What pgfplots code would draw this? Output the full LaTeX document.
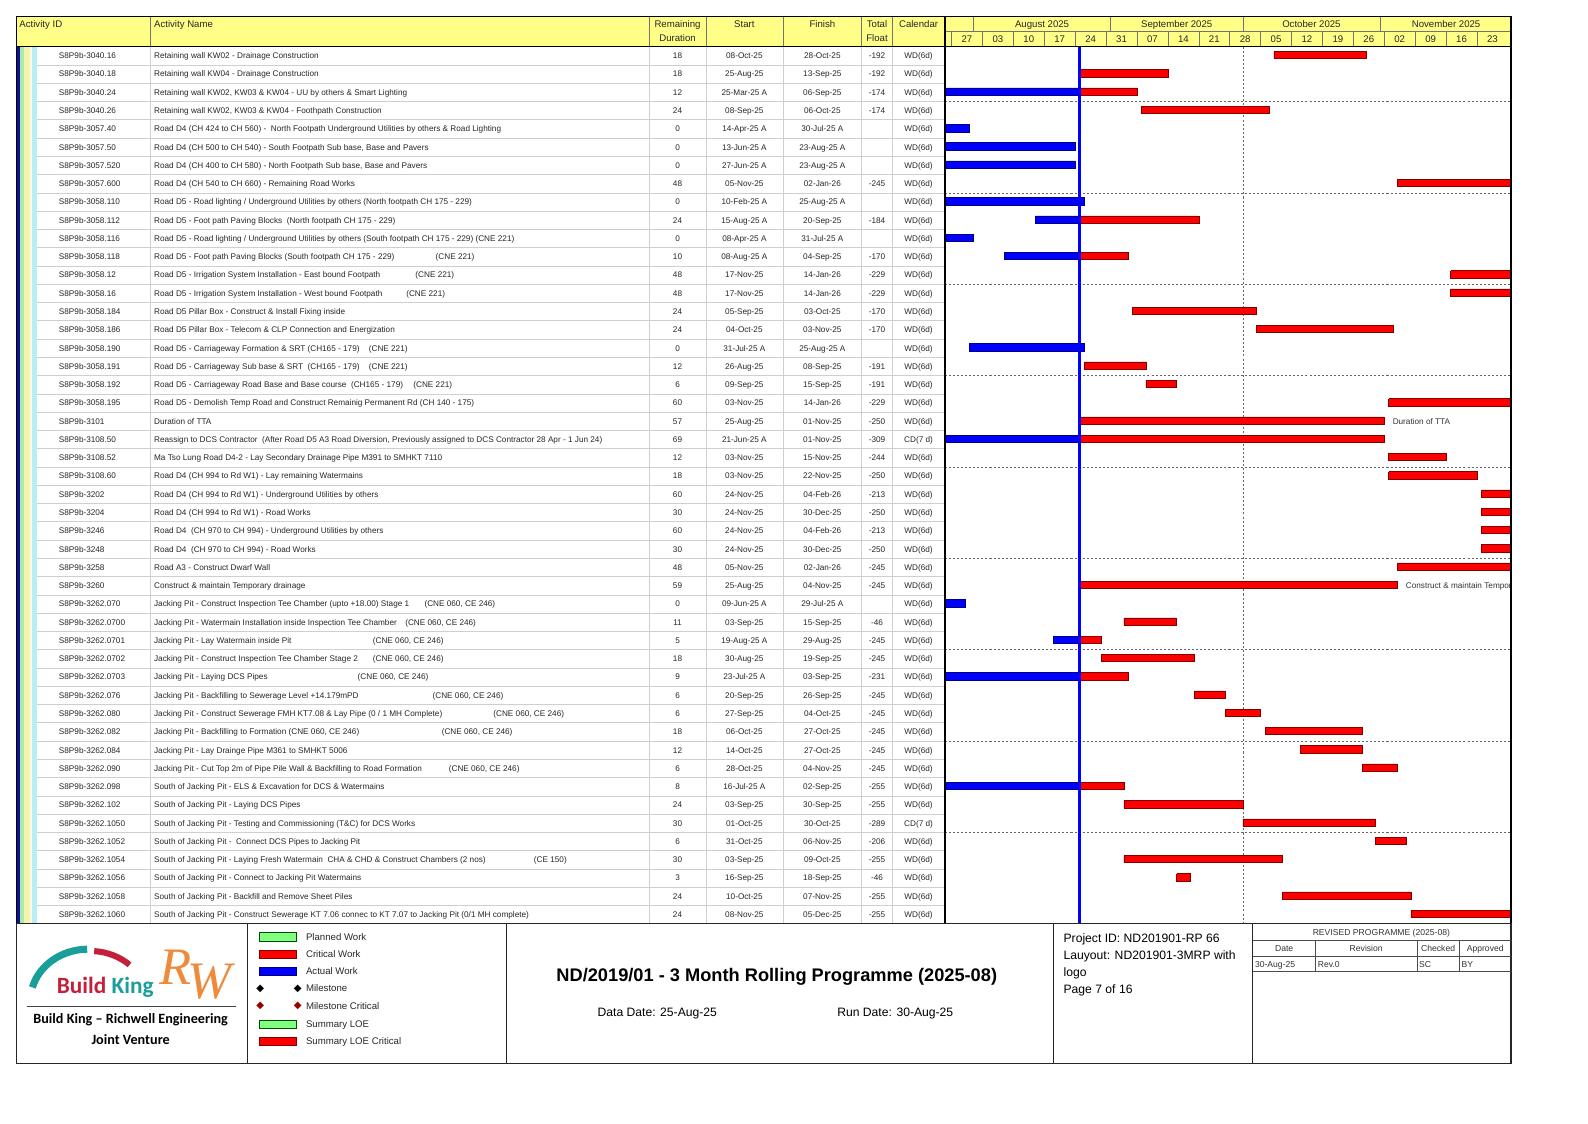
\documentclass[border=0pt]{standalone}
\usepackage{pgfplots}
\pgfplotsset{compat=1.18}
\usepackage{fontspec}
\setmainfont{Liberation Sans}
\newfontfamily\carlito{Carlito}
\newfontfamily\dejavu{DejaVu Sans}
\newfontfamily\lserif{Liberation Serif}
\definecolor{hdr}{HTML}{FFFF88}
\definecolor{crit}{HTML}{FF0000}
\definecolor{critD}{HTML}{800000}
\definecolor{act}{HTML}{0000FF}
\definecolor{actD}{HTML}{000080}
\definecolor{plan}{HTML}{80FF80}
\definecolor{gridg}{HTML}{CFCFCF}
\definecolor{bkteal}{HTML}{1A9E9A}
\definecolor{bkred}{HTML}{C4203C}
\definecolor{rworange}{HTML}{EE8A3A}
\definecolor{sNavy}{HTML}{10109A}
\definecolor{sGreen}{HTML}{A8EEA8}
\definecolor{sYellow}{HTML}{F4F4B0}
\definecolor{sPale}{HTML}{FAFAE6}
\definecolor{sCyan}{HTML}{B8EEF4}
\pgfplotsset{critbar/.style={fill=crit, draw=critD, line width=0.5pt},
             actbar/.style={fill=act, draw=actD, line width=0.5pt}}
\newcommand\gb[5]{\addplot[#1] coordinates {(#4,#2)(#5,#2)(#5,#3)(#4,#3)(#4,#2)};}
\newcommand\trow[8]{%
  \pgfmathsetmacro\yb{-46-(#1-0.5)*18.042-2.9}%
  \node[anchor=base west] at (58,\yb) {#2};%
  \node[anchor=base west] at (152,\yb) {#3};%
  \node[anchor=base] at (669,\yb) {#4};%
  \node[anchor=base] at (735,\yb) {#5};%
  \node[anchor=base] at (812,\yb) {#6};%
  \node[anchor=base] at (866,\yb) {#7};%
  \node[anchor=base] at (907,\yb) {#8};%
}
\newcommand\xtra[3]{%
  \pgfmathsetmacro\yb{-46-(#1-0.5)*18.042-2.9}%
  \node[anchor=base west] at (#2,\yb) {#3};}
\begin{document}
\begin{tikzpicture}[x=1pt,y=1pt,font=\fontsize{8.1}{9.6}\selectfont,every node/.style={inner sep=0pt}]
\path (0,0) rectangle (1568,-1109);
% header background
\fill[hdr] (16,-16) rectangle (1492,-46);
% left colour strips
\fill[sNavy] (16,-46) rectangle (19.5,-912);
\fill[sGreen] (19.5,-46) rectangle (23.5,-912);
\fill[sYellow] (23.5,-46) rectangle (29.5,-912);
\fill[sPale] (29.5,-46) rectangle (31.5,-912);
\fill[sCyan] (31.5,-46) rectangle (36.5,-912);
% row lines
\foreach \k in {1,...,47} {\draw[gridg, line width=0.5pt] (37,{-46-\k*18.042}) -- (933,{-46-\k*18.042});}
% column lines
\foreach \x in {148,641,697.5,773.5,850,881.5} {\draw[gridg, line width=0.6pt] (\x,-46) -- (\x,-912); \draw[black!55, line width=0.6pt] (\x,-16) -- (\x,-46);}
% gantt dashed lines
\foreach \k in {3,8,...,43} {\draw[black!60, line width=0.5pt, dash pattern=on 2pt off 2pt] (933,{-46-\k*18.042}) -- (1492,{-46-\k*18.042});}
\draw[black!60, line width=0.5pt, dash pattern=on 2pt off 2pt] ({939.54+66*4.36},-46) -- ({939.54+66*4.36},-912);

\begin{axis}[at={(933pt,-912pt)}, anchor=south west, width=559pt, height=866pt, scale only axis,
  xmin=-1.5, xmax=126.71, ymin=0.5, ymax=48.5, y dir=reverse, hide axis]
\gb{critbar}{0.76}{1.16}{73}{94}
\gb{critbar}{1.76}{2.16}{29}{49}
\gb{actbar}{2.76}{3.16}{-124}{29}
\gb{critbar}{2.76}{3.16}{29}{42}
\gb{critbar}{3.76}{4.16}{43}{72}
\gb{actbar}{4.76}{5.16}{-104}{4}
\gb{actbar}{5.76}{6.16}{-44}{28}
\gb{actbar}{6.76}{7.16}{-30}{28}
\gb{critbar}{7.76}{8.16}{101}{160}
\gb{actbar}{8.76}{9.16}{-167}{30}
\gb{actbar}{9.76}{10.16}{19}{29}
\gb{critbar}{9.76}{10.16}{29}{56}
\gb{actbar}{10.76}{11.16}{-110}{5}
\gb{actbar}{11.76}{12.16}{12}{29}
\gb{critbar}{11.76}{12.16}{29}{40}
\gb{critbar}{12.76}{13.16}{113}{172}
\gb{critbar}{13.76}{14.16}{113}{172}
\gb{critbar}{14.76}{15.16}{41}{69}
\gb{critbar}{15.76}{16.16}{69}{100}
\gb{actbar}{16.76}{17.16}{4}{30}
\gb{critbar}{17.76}{18.16}{30}{44}
\gb{critbar}{18.76}{19.16}{44}{51}
\gb{critbar}{19.76}{20.16}{99}{172}
\gb{critbar}{20.76}{21.16}{29}{98}
\gb{actbar}{21.76}{22.16}{-36}{29}
\gb{critbar}{21.76}{22.16}{29}{98}
\gb{critbar}{22.76}{23.16}{99}{112}
\gb{critbar}{23.76}{24.16}{99}{119}
\gb{critbar}{24.76}{25.16}{120}{193}
\gb{critbar}{25.76}{26.16}{120}{157}
\gb{critbar}{26.76}{27.16}{120}{193}
\gb{critbar}{27.76}{28.16}{120}{157}
\gb{critbar}{28.76}{29.16}{101}{160}
\gb{critbar}{29.76}{30.16}{29}{101}
\gb{actbar}{30.76}{31.16}{-48}{3}
\gb{critbar}{31.76}{32.16}{39}{51}
\gb{actbar}{32.76}{33.16}{23}{29}
\gb{critbar}{32.76}{33.16}{29}{34}
\gb{critbar}{33.76}{34.16}{34}{55}
\gb{actbar}{34.76}{35.16}{-4}{29}
\gb{critbar}{34.76}{35.16}{29}{40}
\gb{critbar}{35.76}{36.16}{55}{62}
\gb{critbar}{36.76}{37.16}{62}{70}
\gb{critbar}{37.76}{38.16}{71}{93}
\gb{critbar}{38.76}{39.16}{79}{93}
\gb{critbar}{39.76}{40.16}{93}{101}
\gb{actbar}{40.76}{41.16}{-11}{29}
\gb{critbar}{40.76}{41.16}{29}{39}
\gb{critbar}{41.76}{42.16}{39}{66}
\gb{critbar}{42.76}{43.16}{66}{96}
\gb{critbar}{43.76}{44.16}{96}{103}
\gb{critbar}{44.76}{45.16}{39}{75}
\gb{critbar}{45.76}{46.16}{51}{54}
\gb{critbar}{46.76}{47.16}{75}{104}
\gb{critbar}{47.76}{48.16}{104}{132}
\end{axis}

% data date line
\draw[act, line width=2.8pt] ({939.54+29*4.36},-46) -- ({939.54+29*4.36},-912);
% bar labels
\begin{scope}
\clip (933,-46) rectangle (1492,-912);
\begin{scope}[text=black!80]
\xtra{21}{1375}{Duration of TTA}
\xtra{30}{1388}{Construct \& maintain Temporary drainage}
\end{scope}
\end{scope}

% gantt header
\draw[black!55, line width=0.6pt] (933,-31) -- (1492,-31);
\foreach \d in {5,36,66,97} {\draw[black!55, line width=0.6pt] ({939.54+\d*4.36},-16) -- ({939.54+\d*4.36},-31);}
\foreach \d in {0,7,...,119} {\draw[black!55, line width=0.6pt] ({939.54+\d*4.36},-31) -- ({939.54+\d*4.36},-46);}
\begin{scope}[font=\fontsize{9.5}{11}\selectfont, text=black!85]
\node[anchor=base] at ({939.54+20.5*4.36},-27) {August 2025};
\node[anchor=base] at ({939.54+51*4.36},-27) {September 2025};
\node[anchor=base] at ({939.54+81.5*4.36},-27) {October 2025};
\node[anchor=base] at ({939.54+112*4.36},-27) {November 2025};
\foreach \d/\l in {0/27,7/03,14/10,21/17,28/24,35/31,42/07,49/14,56/21,63/28,70/05,77/12,84/19,91/26,98/02,105/09,112/16,119/23}
  {\node[anchor=base] at ({939.54+(\d+3.5)*4.36},-42) {\l};}
% column headers
\node[anchor=base west] at (19,-27.5) {Activity ID};
\node[anchor=base west] at (152,-27.5) {Activity Name};
\node[anchor=base] at (669,-27.5) {Remaining};
\node[anchor=base] at (669,-40.5) {Duration};
\node[anchor=base] at (735,-27.5) {Start};
\node[anchor=base] at (812,-27.5) {Finish};
\node[anchor=base] at (866,-27.5) {Total};
\node[anchor=base] at (866,-40.5) {Float};
\node[anchor=base] at (907,-27.5) {Calendar};
\end{scope}

% table rows
\begin{scope}[text=black!85]
\trow{1}{S8P9b-3040.16}{Retaining wall KW02 - Drainage Construction}{18}{08-Oct-25}{28-Oct-25}{-192}{WD(6d)}
\trow{2}{S8P9b-3040.18}{Retaining wall KW04 - Drainage Construction}{18}{25-Aug-25}{13-Sep-25}{-192}{WD(6d)}
\trow{3}{S8P9b-3040.24}{Retaining wall KW02, KW03 \& KW04 - UU by others \& Smart Lighting}{12}{25-Mar-25 A}{06-Sep-25}{-174}{WD(6d)}
\trow{4}{S8P9b-3040.26}{Retaining wall KW02, KW03 \& KW04 - Foothpath Construction}{24}{08-Sep-25}{06-Oct-25}{-174}{WD(6d)}
\trow{5}{S8P9b-3057.40}{Road D4 (CH 424 to CH 560) -\ \ North Footpath Underground Utilities by others \& Road Lighting}{0}{14-Apr-25 A}{30-Jul-25 A}{}{WD(6d)}
\trow{6}{S8P9b-3057.50}{Road D4 (CH 500 to CH 540) - South Footpath Sub base, Base and Pavers}{0}{13-Jun-25 A}{23-Aug-25 A}{}{WD(6d)}
\trow{7}{S8P9b-3057.520}{Road D4 (CH 400 to CH 580) - North Footpath Sub base, Base and Pavers}{0}{27-Jun-25 A}{23-Aug-25 A}{}{WD(6d)}
\trow{8}{S8P9b-3057.600}{Road D4 (CH 540 to CH 660) - Remaining Road Works}{48}{05-Nov-25}{02-Jan-26}{-245}{WD(6d)}
\trow{9}{S8P9b-3058.110}{Road D5 - Road lighting / Underground Utilities by others (North footpath CH 175 - 229)}{0}{10-Feb-25 A}{25-Aug-25 A}{}{WD(6d)}
\trow{10}{S8P9b-3058.112}{Road D5 - Foot path Paving Blocks\ \ (North footpath CH 175 - 229)}{24}{15-Aug-25 A}{20-Sep-25}{-184}{WD(6d)}
\trow{11}{S8P9b-3058.116}{Road D5 - Road lighting / Underground Utilities by others (South footpath CH 175 - 229) (CNE 221)}{0}{08-Apr-25 A}{31-Jul-25 A}{}{WD(6d)}
\trow{12}{S8P9b-3058.118}{Road D5 - Foot path Paving Blocks (South footpath CH 175 - 229)}{10}{08-Aug-25 A}{04-Sep-25}{-170}{WD(6d)}
\xtra{12}{430}{(CNE 221)}
\trow{13}{S8P9b-3058.12}{Road D5 - Irrigation System Installation - East bound Footpath}{48}{17-Nov-25}{14-Jan-26}{-229}{WD(6d)}
\xtra{13}{410}{(CNE 221)}
\trow{14}{S8P9b-3058.16}{Road D5 - Irrigation System Installation - West bound Footpath}{48}{17-Nov-25}{14-Jan-26}{-229}{WD(6d)}
\xtra{14}{401}{(CNE 221)}
\trow{15}{S8P9b-3058.184}{Road D5 Pillar Box - Construct \& Install Fixing inside}{24}{05-Sep-25}{03-Oct-25}{-170}{WD(6d)}
\trow{16}{S8P9b-3058.186}{Road D5 Pillar Box - Telecom \& CLP Connection and Energization}{24}{04-Oct-25}{03-Nov-25}{-170}{WD(6d)}
\trow{17}{S8P9b-3058.190}{Road D5 - Carriageway Formation \& SRT (CH165 - 179)}{0}{31-Jul-25 A}{25-Aug-25 A}{}{WD(6d)}
\xtra{17}{364}{(CNE 221)}
\trow{18}{S8P9b-3058.191}{Road D5 - Carriageway Sub base \& SRT\ \ (CH165 - 179)}{12}{26-Aug-25}{08-Sep-25}{-191}{WD(6d)}
\xtra{18}{364}{(CNE 221)}
\trow{19}{S8P9b-3058.192}{Road D5 - Carriageway Road Base and Base course\ \ (CH165 - 179)}{6}{09-Sep-25}{15-Sep-25}{-191}{WD(6d)}
\xtra{19}{408}{(CNE 221)}
\trow{20}{S8P9b-3058.195}{Road D5 - Demolish Temp Road and Construct Remainig Permanent Rd (CH 140 - 175)}{60}{03-Nov-25}{14-Jan-26}{-229}{WD(6d)}
\trow{21}{S8P9b-3101}{Duration of TTA}{57}{25-Aug-25}{01-Nov-25}{-250}{WD(6d)}
\trow{22}{S8P9b-3108.50}{Reassign to DCS Contractor\ \ (After Road D5 A3 Road Diversion, Previously assigned to DCS Contractor 28 Apr - 1 Jun 24)}{69}{21-Jun-25 A}{01-Nov-25}{-309}{CD(7 d)}
\trow{23}{S8P9b-3108.52}{Ma Tso Lung Road D4-2 - Lay Secondary Drainage Pipe M391 to SMHKT 7110}{12}{03-Nov-25}{15-Nov-25}{-244}{WD(6d)}
\trow{24}{S8P9b-3108.60}{Road D4 (CH 994 to Rd W1) - Lay remaining Watermains}{18}{03-Nov-25}{22-Nov-25}{-250}{WD(6d)}
\trow{25}{S8P9b-3202}{Road D4 (CH 994 to Rd W1) - Underground Utilities by others}{60}{24-Nov-25}{04-Feb-26}{-213}{WD(6d)}
\trow{26}{S8P9b-3204}{Road D4 (CH 994 to Rd W1) - Road Works}{30}{24-Nov-25}{30-Dec-25}{-250}{WD(6d)}
\trow{27}{S8P9b-3246}{Road D4\ \ (CH 970 to CH 994) - Underground Utilities by others}{60}{24-Nov-25}{04-Feb-26}{-213}{WD(6d)}
\trow{28}{S8P9b-3248}{Road D4\ \ (CH 970 to CH 994) - Road Works}{30}{24-Nov-25}{30-Dec-25}{-250}{WD(6d)}
\trow{29}{S8P9b-3258}{Road A3 - Construct Dwarf Wall}{48}{05-Nov-25}{02-Jan-26}{-245}{WD(6d)}
\trow{30}{S8P9b-3260}{Construct \& maintain Temporary drainage}{59}{25-Aug-25}{04-Nov-25}{-245}{WD(6d)}
\trow{31}{S8P9b-3262.070}{Jacking Pit - Construct Inspection Tee Chamber (upto +18.00) Stage 1}{0}{09-Jun-25 A}{29-Jul-25 A}{}{WD(6d)}
\xtra{31}{419}{(CNE 060, CE 246)}
\trow{32}{S8P9b-3262.0700}{Jacking Pit - Watermain Installation inside Inspection Tee Chamber}{11}{03-Sep-25}{15-Sep-25}{-46}{WD(6d)}
\xtra{32}{400}{(CNE 060, CE 246)}
\trow{33}{S8P9b-3262.0701}{Jacking Pit - Lay Watermain inside Pit}{5}{19-Aug-25 A}{29-Aug-25}{-245}{WD(6d)}
\xtra{33}{368}{(CNE 060, CE 246)}
\trow{34}{S8P9b-3262.0702}{Jacking Pit - Construct Inspection Tee Chamber Stage 2}{18}{30-Aug-25}{19-Sep-25}{-245}{WD(6d)}
\xtra{34}{368}{(CNE 060, CE 246)}
\trow{35}{S8P9b-3262.0703}{Jacking Pit - Laying DCS Pipes}{9}{23-Jul-25 A}{03-Sep-25}{-231}{WD(6d)}
\xtra{35}{353}{(CNE 060, CE 246)}
\trow{36}{S8P9b-3262.076}{Jacking Pit - Backfilling to Sewerage Level +14.179mPD}{6}{20-Sep-25}{26-Sep-25}{-245}{WD(6d)}
\xtra{36}{427}{(CNE 060, CE 246)}
\trow{37}{S8P9b-3262.080}{Jacking Pit - Construct Sewerage FMH KT7.08 \& Lay Pipe (0 / 1 MH Complete)}{6}{27-Sep-25}{04-Oct-25}{-245}{WD(6d)}
\xtra{37}{487}{(CNE 060, CE 246)}
\trow{38}{S8P9b-3262.082}{Jacking Pit - Backfilling to Formation (CNE 060, CE 246)}{18}{06-Oct-25}{27-Oct-25}{-245}{WD(6d)}
\xtra{38}{436}{(CNE 060, CE 246)}
\trow{39}{S8P9b-3262.084}{Jacking Pit - Lay Drainge Pipe M361 to SMHKT 5006}{12}{14-Oct-25}{27-Oct-25}{-245}{WD(6d)}
\trow{40}{S8P9b-3262.090}{Jacking Pit - Cut Top 2m of Pipe Pile Wall \& Backfilling to Road Formation}{6}{28-Oct-25}{04-Nov-25}{-245}{WD(6d)}
\xtra{40}{443}{(CNE 060, CE 246)}
\trow{41}{S8P9b-3262.098}{South of Jacking Pit - ELS \& Excavation for DCS \& Watermains}{8}{16-Jul-25 A}{02-Sep-25}{-255}{WD(6d)}
\trow{42}{S8P9b-3262.102}{South of Jacking Pit - Laying DCS Pipes}{24}{03-Sep-25}{30-Sep-25}{-255}{WD(6d)}
\trow{43}{S8P9b-3262.1050}{South of Jacking Pit - Testing and Commissioning (T\&C) for DCS Works}{30}{01-Oct-25}{30-Oct-25}{-289}{CD(7 d)}
\trow{44}{S8P9b-3262.1052}{South of Jacking Pit -\ \ Connect DCS Pipes to Jacking Pit}{6}{31-Oct-25}{06-Nov-25}{-206}{WD(6d)}
\trow{45}{S8P9b-3262.1054}{South of Jacking Pit - Laying Fresh Watermain\ \ CHA \& CHD \& Construct Chambers (2 nos)}{30}{03-Sep-25}{09-Oct-25}{-255}{WD(6d)}
\xtra{45}{527}{(CE 150)}
\trow{46}{S8P9b-3262.1056}{South of Jacking Pit - Connect to Jacking Pit Watermains}{3}{16-Sep-25}{18-Sep-25}{-46}{WD(6d)}
\trow{47}{S8P9b-3262.1058}{South of Jacking Pit - Backfill and Remove Sheet Piles}{24}{10-Oct-25}{07-Nov-25}{-255}{WD(6d)}
\trow{48}{S8P9b-3262.1060}{South of Jacking Pit - Construct Sewerage KT 7.06 connec to KT 7.07 to Jacking Pit (0/1 MH complete)}{24}{08-Nov-25}{05-Dec-25}{-255}{WD(6d)}
\end{scope}

% frames
\draw[black, line width=1.2pt] (16,-46) -- (1492,-46);
\draw[black, line width=1.5pt] (933,-16) -- (933,-912);
\draw[black, line width=1.2pt] (16,-16) rectangle (1492,-912);

% ---------- footer ----------
\draw[black!85, line width=1.2pt] (16,-912) rectangle (1492,-1050);
\foreach \x in {244,500,1040,1237} {\draw[black!85, line width=1pt] (\x,-912) -- (\x,-1050);}
% logo
\draw[bkteal, line width=7pt] (32,-975) arc[start angle=165, end angle=91, x radius=57, y radius=51];
\draw[bkred, line width=6pt] (93.0,-939.1) arc[start angle=86, end angle=47, x radius=57, y radius=51];
\node[anchor=base west] at (56,-981) {\carlito\bfseries\fontsize{23}{23}\selectfont\textcolor{bkred}{Build} \textcolor{bkteal}{King}};
\node[anchor=base west, text=rworange] at (157,-972) {\lserif\itshape\fontsize{52}{52}\selectfont R\kern-4pt\raisebox{-14pt}{W}};
\draw[black!75, line width=1.2pt] (27,-994) -- (233,-994);
\node at (129,-1007) {\carlito\bfseries\fontsize{14}{16}\selectfont Build King \textendash{} Richwell Engineering};
\node at (129,-1026) {\carlito\bfseries\fontsize{14}{16}\selectfont Joint Venture};
% legend
\begin{scope}[font=\fontsize{9.5}{11}\selectfont, text=black!85]
\filldraw[fill=plan, draw=black!70!green, line width=0.6pt] (256,-921) rectangle (293,-929);
\filldraw[fill=crit, draw=critD, line width=0.6pt] (256,-938) rectangle (293,-946);
\filldraw[fill=act, draw=actD, line width=0.6pt] (256,-955) rectangle (293,-963);
\filldraw[fill=plan, draw=black!70!green, line width=0.6pt] (256,-1007) rectangle (293,-1015);
\filldraw[fill=crit, draw=critD, line width=0.6pt] (256,-1024) rectangle (293,-1032);
\node[text=black] at (257,-976) {\dejavu\fontsize{10}{10}\selectfont ◆};
\node[text=black] at (294,-976) {\dejavu\fontsize{10}{10}\selectfont ◆};
\node[text=red!60!black] at (257,-993) {\dejavu\fontsize{10}{10}\selectfont ◆};
\node[text=red!60!black] at (294,-993) {\dejavu\fontsize{10}{10}\selectfont ◆};
\node[anchor=base west] at (302,-928.4) {Planned Work};
\node[anchor=base west] at (302,-945.4) {Critical Work};
\node[anchor=base west] at (302,-962.4) {Actual Work};
\node[anchor=base west] at (302,-979.4) {Milestone};
\node[anchor=base west] at (302,-996.4) {Milestone Critical};
\node[anchor=base west] at (302,-1014.4) {Summary LOE};
\node[anchor=base west] at (302,-1031.4) {Summary LOE Critical};
\end{scope}
% title block
\node at (767,-965) {\bfseries\fontsize{18}{20}\selectfont ND/2019/01 - 3 Month Rolling Programme (2025-08)};
\node at (649,-1001) {\fontsize{12}{14}\selectfont Data Date: 25-Aug-25};
\node at (884,-1001) {\fontsize{12}{14}\selectfont Run Date: 30-Aug-25};
\begin{scope}[font=\fontsize{12}{14}\selectfont]
\node[anchor=base west] at (1050,-930.5) {Project ID: ND201901-RP 66};
\node[anchor=base west] at (1050,-947.5) {Lauyout: ND201901-3MRP with};
\node[anchor=base west] at (1050,-964) {logo};
\node[anchor=base west] at (1050,-980.5) {Page 7 of 16};
\end{scope}
% revision table
\begin{scope}[font=\fontsize{8.5}{10}\selectfont, text=black!80]
\draw[black!70, line width=0.6pt] (1237,-928.5) -- (1492,-928.5);
\draw[black!70, line width=0.6pt] (1237,-944) -- (1492,-944);
\draw[black!70, line width=0.6pt] (1237,-959.5) -- (1492,-959.5);
\foreach \x in {1299,1399,1441} {\draw[black!70, line width=0.6pt] (\x,-928.5) -- (\x,-959.5);}
\node[anchor=base] at (1364,-923.5) {REVISED PROGRAMME (2025-08)};
\node[anchor=base] at (1268,-939.5) {Date};
\node[anchor=base] at (1349,-939.5) {Revision};
\node[anchor=base] at (1420,-939.5) {Checked};
\node[anchor=base] at (1466.5,-939.5) {Approved};
\node[anchor=base west] at (1239,-955) {30-Aug-25};
\node[anchor=base west] at (1301,-955) {Rev.0};
\node[anchor=base west] at (1401,-955) {SC};
\node[anchor=base west] at (1443,-955) {BY};
\end{scope}
\end{tikzpicture}
\end{document}
